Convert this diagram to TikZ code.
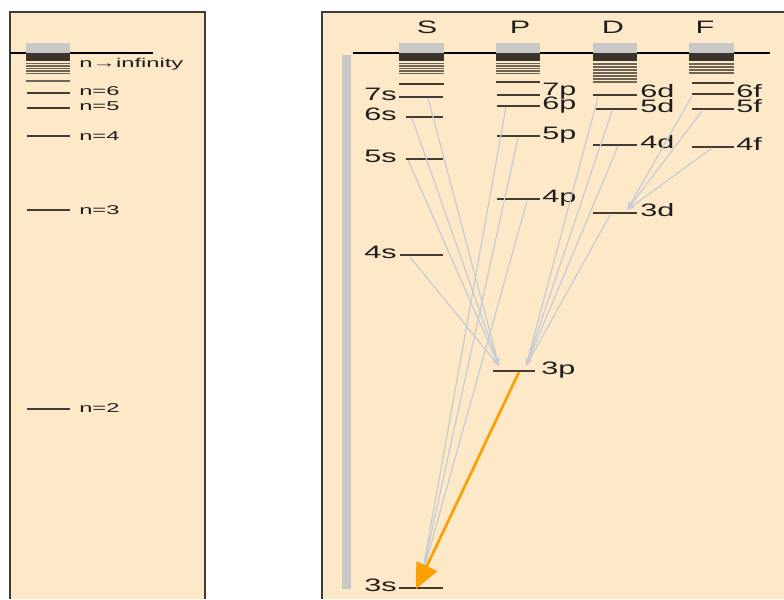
\documentclass[tikz,border=0pt]{standalone}
\usepackage{fontspec}
\setmainfont{Liberation Sans}
\newfontfamily\lfont[FakeStretch=1.85]{Liberation Sans}
\newfontfamily\rfont[FakeStretch=1.7]{Liberation Sans}
\usetikzlibrary{arrows.meta}

\definecolor{panelfill}{RGB}{253,232,199}
\definecolor{paneledge}{RGB}{60,60,60}
\definecolor{lvlcol}{RGB}{66,60,52}
\definecolor{bandcol}{RGB}{58,52,44}
\definecolor{bandline}{RGB}{110,100,86}
\definecolor{capgray}{RGB}{200,200,200}
\definecolor{transgray}{RGB}{196,204,214}
\definecolor{emitorange}{RGB}{250,160,0}
\definecolor{labelcol}{RGB}{30,30,30}

\tikzset{
  panelbox/.style={draw=paneledge, line width=1.1pt},
  limit/.style={draw=black, line width=0.9pt},
  lvl/.style={draw=lvlcol, line width=1.5pt},
  thinlvl/.style={draw=bandline, line width=1pt},
  trans/.style={draw=transgray, line width=0.9pt, -{Stealth[length=6pt,width=4pt]}},
  emit/.style={draw=emitorange, line width=2pt, -{Triangle[length=19pt,width=17pt]}},
  nname/.style={inner sep=0pt, anchor=mid west, text=labelcol, font=\lfont\fontsize{9.6}{10}\selectfont},
  lvlname/.style={inner sep=0pt, text=labelcol, font=\rfont\fontsize{13.5}{14}\selectfont},
}

% head of a series: grey cap, dark band and the crowded high levels
\newcommand{\serieshead}[3]{%
  \fill[capgray] (#1,43) rectangle (#2,53);
  \fill[bandcol] (#1,53) rectangle (#2,61);
  \foreach \yy in {#3} \draw[thinlvl] (#1,\yy) -- (#2,\yy);
}

\begin{document}
\begin{tikzpicture}[x=0.75pt,y=0.75pt,yscale=-1,xscale=1]
\useasboundingbox (0,0) rectangle (784,599);

%Shape: Panels
\fill[panelfill] (10,12) rectangle (205,599);
\draw[panelbox] (10,599) -- (10,12) -- (205,12) -- (205,599);
\fill[panelfill] (322,12) rectangle (784,599);
\draw[panelbox] (322,599) -- (322,12) -- (784,12);

%Straight Lines: ionisation limits
\draw[limit] (10,53) -- (153,53);
\draw[limit] (353,53) -- (770,53);

%Shape: energy scale bar
\fill[capgray] (342,55) rectangle (351,589);

%%% left panel: hydrogen
\serieshead{26}{70}{63.5,66,68.5,71,73.5}
\draw[thinlvl] (26,81) -- (70,81);
\draw[lvl] (27,93) -- (70,93);
\draw[lvl] (27,108) -- (70,108);
\draw[lvl] (27,136) -- (70,136);
\draw[lvl] (27,210) -- (70,210);
\draw[lvl] (27,409) -- (70,409);

% Text Node
\node[nname] (ninf) at (79,64) {n→infinity};
\node[nname] (n6) at (79,92) {n=6};
\node[nname] (n5) at (79,107) {n=5};
\node[nname] (n4) at (79,137) {n=4};
\node[nname] (n3) at (79,211) {n=3};
\node[nname] (n2) at (79,409) {n=2};

%%% right panel: sodium
\serieshead{399}{444}{63.5,66,68.5,71,73.5}
\serieshead{496}{540}{63.5,66,68.5,71,73.5}
\serieshead{593}{637}{64,67,70,73,76,79,82}
\serieshead{689}{734}{64,67,70,73}

% S levels
\draw[lvl] (399,84) -- (444,84);
\draw[lvl] (399,97) -- (443,97);
\draw[lvl] (406,117) -- (443,117);
\draw[lvl] (406,159) -- (443,159);
\draw[lvl] (400,255) -- (443,255);
\draw[lvl] (399,588) -- (443,588);
% P levels
\draw[lvl] (496,82) -- (540,82);
\draw[lvl] (497,95) -- (540,95);
\draw[lvl] (497,106) -- (540,106);
\draw[lvl] (497,136) -- (540,136);
\draw[lvl] (497,199) -- (540,199);
\draw[lvl] (493,371) -- (535,371);
% D levels
\draw[lvl] (593,95) -- (637,95);
\draw[lvl] (596,109) -- (637,109);
\draw[lvl] (593,145) -- (637,145);
\draw[lvl] (593,213) -- (637,213);
% F levels
\draw[lvl] (692,83) -- (734,83);
\draw[lvl] (692,94) -- (734,94);
\draw[lvl] (692,109) -- (734,109);
\draw[lvl] (692,147) -- (734,147);

% Text Node
\node[lvlname] (hS) at (427,27) {S};
\node[lvlname] (hP) at (520,27) {P};
\node[lvlname] (hD) at (613,27) {D};
\node[lvlname] (hF) at (705,27) {F};

% Text Node
\node[lvlname, anchor=mid east] (t7s) at (397,97) {7s};
\node[lvlname, anchor=mid east] (t6s) at (397,117) {6s};
\node[lvlname, anchor=mid east] (t5s) at (397,159) {5s};
\node[lvlname, anchor=mid east] (t4s) at (397,255) {4s};
\node[lvlname, anchor=mid east] (t3s) at (397,588) {3s};
\node[lvlname, anchor=mid west] (t7p) at (542,92) {7p};
\node[lvlname, anchor=mid west] (t6p) at (542,106) {6p};
\node[lvlname, anchor=mid west] (t5p) at (542,136) {5p};
\node[lvlname, anchor=mid west] (t4p) at (542,199) {4p};
\node[lvlname, anchor=mid west] (t3p) at (541,371) {3p};
\node[lvlname, anchor=mid west] (t6d) at (640,94) {6d};
\node[lvlname, anchor=mid west] (t5d) at (640,109) {5d};
\node[lvlname, anchor=mid west] (t4d) at (640,145) {4d};
\node[lvlname, anchor=mid west] (t3d) at (640,213) {3d};
\node[lvlname, anchor=mid west] (t6f) at (736,94) {6f};
\node[lvlname, anchor=mid west] (t5f) at (736,109) {5f};
\node[lvlname, anchor=mid west] (t4f) at (736,147) {4f};

% transition end points
\coordinate (s7) at (428,98);
\coordinate (s6) at (412,118);
\coordinate (s5) at (408,160);
\coordinate (s4) at (410,257);
\coordinate (p6) at (506,107);
\coordinate (p5) at (518,138);
\coordinate (p4) at (527,201);
\coordinate (d6) at (598,97);
\coordinate (d5) at (612,111);
\coordinate (d4) at (618,146);
\coordinate (d3) at (610,215);
\coordinate (f6) at (692,96);
\coordinate (f5) at (702,111);
\coordinate (f4) at (712,148);
\coordinate (p3s) at (499,366);
\coordinate (p3d) at (526,366);
\coordinate (p3o) at (519,372);
\coordinate (d3f) at (627,210);
\coordinate (s3g) at (421,580);
\coordinate (s3o) at (416,589);

%Straight Lines: transitions
\foreach \src in {s7,s6,s5,s4} \draw[trans] (\src) -- (p3s);
\foreach \src in {d6,d5,d4,d3} \draw[trans] (\src) -- (p3d);
\foreach \src in {p6,p5,p4} \draw[trans] (\src) -- (s3g);
\foreach \src in {f6,f5,f4} \draw[trans] (\src) -- (d3f);

%Straight Lines: 3p to 3s
\draw[emit] (p3o) -- (s3o);

\end{tikzpicture}
\end{document}
